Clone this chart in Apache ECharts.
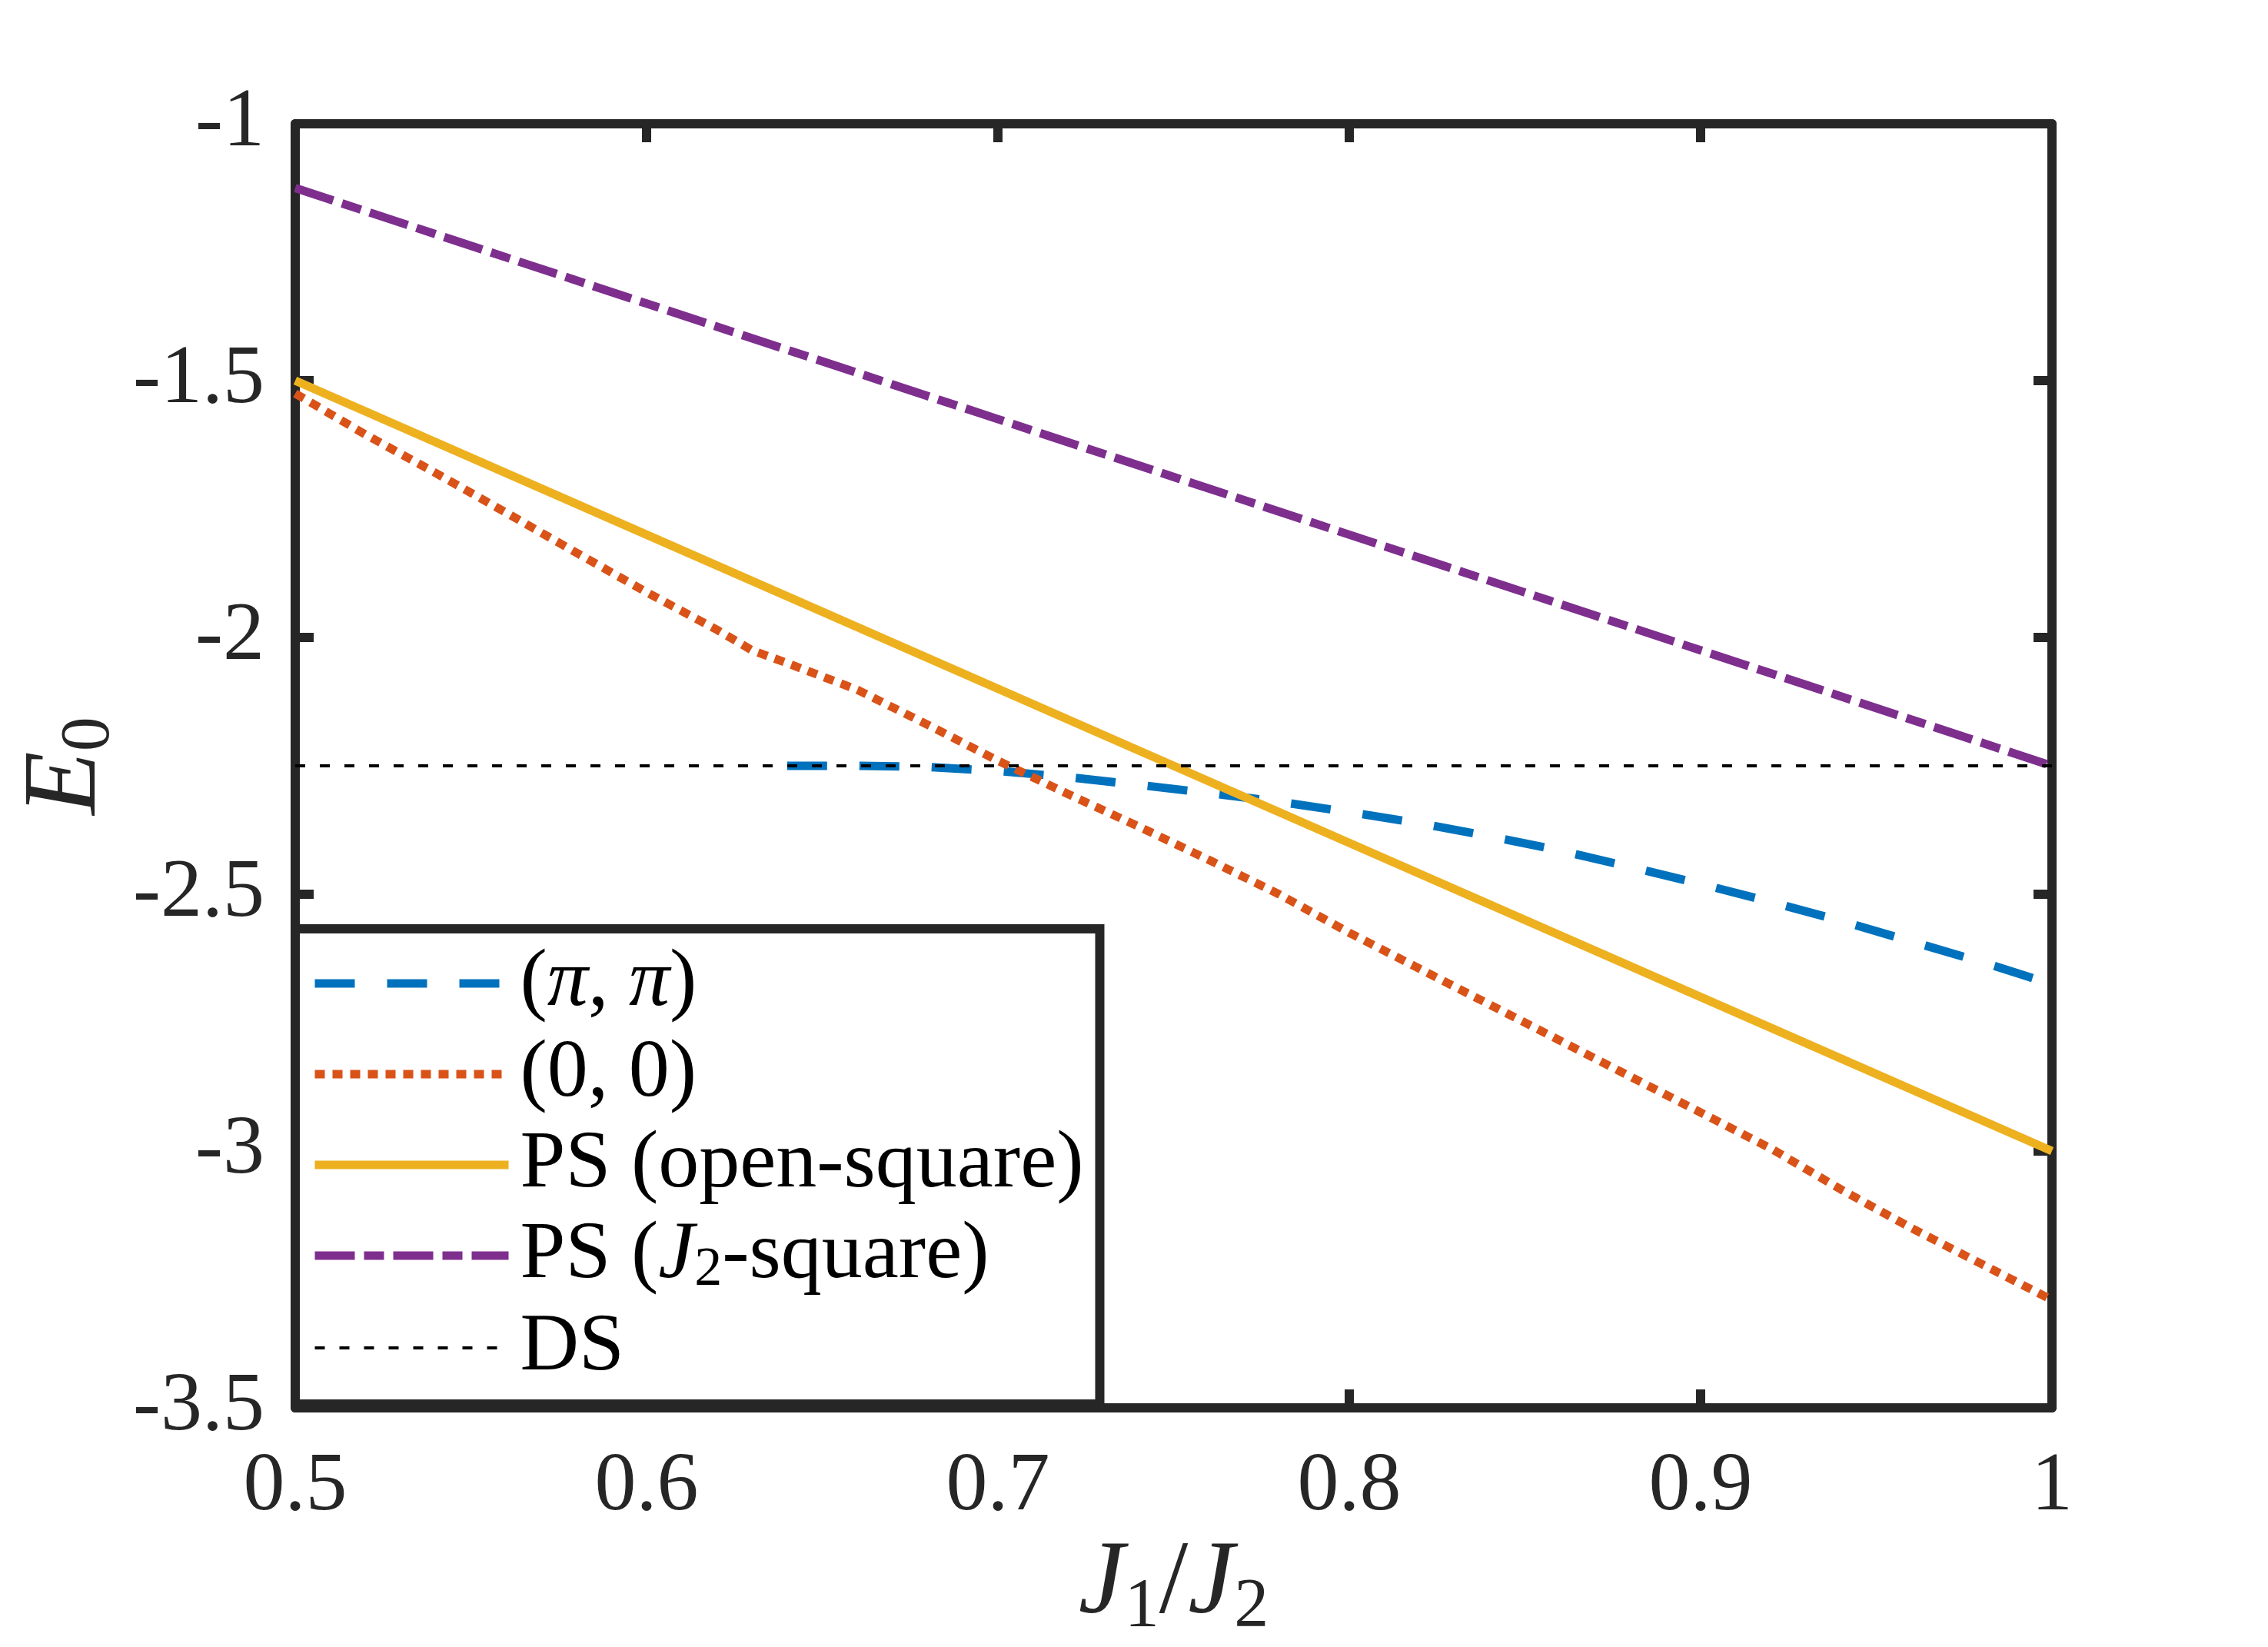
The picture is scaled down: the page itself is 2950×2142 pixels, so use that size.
<!DOCTYPE html>
<html>
<head>
<meta charset="utf-8">
<script src="https://cdn.jsdelivr.net/npm/echarts@6/dist/echarts.min.js"></script>
<style>
  html, body { margin: 0; padding: 0; background: #fff; }
  #chart { width: 2950px; height: 2142px; }
</style>
</head>
<body>
<div id="chart"></div>
<script>
// J1/J2 values and E0 energies
const xPiPi = [0.64, 0.66, 0.68, 0.70, 0.72, 0.74, 0.76, 0.78, 0.80, 0.82, 0.84, 0.86, 0.88, 0.90, 0.92, 0.94, 0.96, 0.98, 1.00];
const yPiPi = [-2.25, -2.25, -2.252, -2.26, -2.272, -2.287, -2.303, -2.32, -2.34, -2.362, -2.387, -2.415, -2.447, -2.48, -2.515, -2.552, -2.592, -2.632, -2.675];

const xZero = [0.50, 0.52, 0.54, 0.56, 0.58, 0.60, 0.62, 0.63, 0.64, 0.66, 0.68, 0.70, 0.72, 0.74, 0.76, 0.78, 0.80, 0.82, 0.84, 0.86, 0.88, 0.90, 0.92, 0.94, 0.96, 0.98, 1.00];
const yZero = [-1.525, -1.605, -1.680, -1.757, -1.835, -1.912, -1.985, -2.025, -2.050, -2.102, -2.170, -2.240, -2.305, -2.368, -2.433, -2.500, -2.575, -2.645, -2.715, -2.785, -2.855, -2.925, -2.995, -3.075, -3.150, -3.220, -3.290];

const xPS = [0.5, 0.6, 0.7, 0.8, 0.9, 1.0];
const yPSOpen = [-1.5, -1.8, -2.1, -2.4, -2.7, -3.0];
const yPSJ2 = [-1.125, -1.35, -1.575, -1.8, -2.025, -2.25];

const xDS = [0.5, 1.0];
const yDS = [-2.25, -2.25];

const seriesNames = ['(π,π)', '(0,0)', 'PS (open-square)', 'PS (J2-square)', 'DS'];
const legendLabels = {
    '(π,π)': '{t|(}{i|π}{t|, }{i|π}{t|)}',
    '(0,0)': '{t|(0, 0)}',
    'PS (open-square)': '{t|PS (open-square)}',
    'PS (J2-square)': '{t|PS (}{i|J}{s|2}{t|-square)}',
    'DS': '{t|DS}'
};

function pairs(xs, ys) {
    return xs.map((x, i) => [x, ys[i]]);
}

const FONT = '"Liberation Serif", "Times New Roman", serif';
const AXIS_COLOR = '#262626';
const AXIS_W = 12;

const chart = echarts.init(document.getElementById('chart'), null, { renderer: 'canvas' });

const mathRich = {
    i: { fontFamily: FONT, fontStyle: 'italic', fontSize: 135, color: AXIS_COLOR, lineHeight: 150 },
    s: { fontFamily: FONT, fontSize: 90, color: AXIS_COLOR, verticalAlign: 'bottom', lineHeight: 76 },
    t: { fontFamily: FONT, fontSize: 135, color: AXIS_COLOR, lineHeight: 150 }
};

const baseAxis = {
    axisLine: { show: true, onZero: false, lineStyle: { color: AXIS_COLOR, width: AXIS_W } },
    axisTick: { show: true, inside: true, length: 24, lineStyle: { color: AXIS_COLOR, width: AXIS_W } },
    splitLine: { show: false }
};

const option = {
    animation: false,
    backgroundColor: '#ffffff',
    grid: { left: 384, right: 281, top: 161, bottom: 311, containLabel: false },
    xAxis: [
        Object.assign({}, baseAxis, {
            type: 'value', min: 0.5, max: 1, interval: 0.1, position: 'bottom',
            axisLabel: {
                fontFamily: FONT, fontSize: 108, color: AXIS_COLOR, margin: 50,
                formatter: v => String(+v.toFixed(1))
            },
            name: '{i|J}{s|1}{t|/}{i|J}{s|2}',
            nameLocation: 'middle', nameGap: 152,
            nameTextStyle: { rich: mathRich }
        }),
        Object.assign({}, baseAxis, {
            type: 'value', min: 0.5, max: 1, interval: 0.1, position: 'top',
            axisLabel: { show: false }
        })
    ],
    yAxis: [
        Object.assign({}, baseAxis, {
            type: 'value', min: -3.5, max: -1, interval: 0.5, position: 'left',
            axisLabel: {
                fontFamily: FONT, fontSize: 108, color: AXIS_COLOR, margin: 40,
                formatter: v => String(+v.toFixed(1))
            },
            name: '{i|E}{s|0}',
            nameLocation: 'middle', nameGap: 221, nameRotate: 90,
            nameTextStyle: { rich: mathRich }
        }),
        Object.assign({}, baseAxis, {
            type: 'value', min: -3.5, max: -1, interval: 0.5, position: 'right',
            axisLabel: { show: false }
        })
    ],
    legend: {
        data: seriesNames.map(n => n === 'DS'
            ? { name: n, lineStyle: { width: 4 } }
            : { name: n, lineStyle: { width: 11 } }),
        orient: 'vertical',
        left: 384,
        top: 1208,
        backgroundColor: '#ffffff',
        borderColor: AXIS_COLOR,
        borderWidth: AXIS_W,
        borderRadius: 0,
        padding: [18, 21, 20, 20],
        itemWidth: 252,
        itemHeight: 30,
        itemGap: 12,
        selectedMode: false,
        itemStyle: { opacity: 0 },
        formatter: name => legendLabels[name],
        textStyle: {
            fontFamily: FONT, fontSize: 106, color: '#000', padding: [0, 0, 0, 10],
            rich: {
                t: { fontFamily: FONT, fontSize: 106, color: '#000', lineHeight: 110 },
                i: { fontFamily: FONT, fontSize: 106, fontStyle: 'italic', color: '#000', lineHeight: 110 },
                s: { fontFamily: FONT, fontSize: 72, color: '#000', verticalAlign: 'bottom', lineHeight: 54 }
            }
        }
    },
    series: [
        {
            name: seriesNames[0], type: 'line', data: pairs(xPiPi, yPiPi),
            symbol: 'none', smooth: false, clip: true,
            lineStyle: { color: '#0072BD', width: 11, type: [52, 42], cap: 'butt' },
            itemStyle: { color: '#0072BD' }
        },
        {
            name: seriesNames[1], type: 'line', data: pairs(xZero, yZero),
            symbol: 'none', smooth: false, clip: true,
            lineStyle: { color: '#D95319', width: 11, type: [13, 10], cap: 'butt' },
            itemStyle: { color: '#D95319' }
        },
        {
            name: seriesNames[2], type: 'line', data: pairs(xPS, yPSOpen),
            symbol: 'none', smooth: false, clip: true,
            lineStyle: { color: '#EDB120', width: 11, type: 'solid' },
            itemStyle: { color: '#EDB120' }
        },
        {
            name: seriesNames[3], type: 'line', data: pairs(xPS, yPSJ2),
            symbol: 'none', smooth: false, clip: true,
            lineStyle: { color: '#7E2F8E', width: 11, type: [52, 12, 26, 12], cap: 'butt' },
            itemStyle: { color: '#7E2F8E' }
        },
        {
            name: seriesNames[4], type: 'line', data: pairs(xDS, yDS),
            symbol: 'none', smooth: false, clip: true,
            lineStyle: { color: '#000000', width: 4, type: [13, 19], cap: 'butt' },
            itemStyle: { color: '#000000' }
        }
    ]
};

chart.setOption(option);
</script>
</body>
</html>
